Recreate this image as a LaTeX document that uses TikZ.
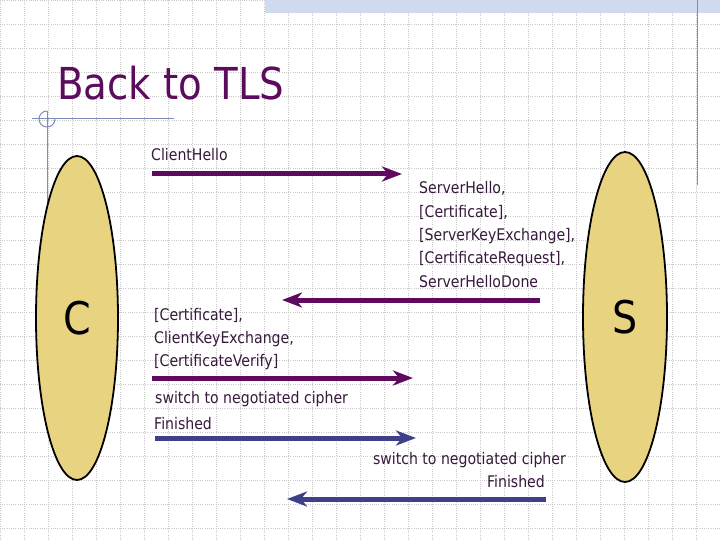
\documentclass[tikz,border=0pt]{standalone}
\usepackage{fontspec}
\setmainfont{DejaVu Sans}[FakeStretch=0.88]
\usetikzlibrary{arrows.meta,shapes.geometric}
\definecolor{gridgray}{RGB}{200,200,200}
\definecolor{bandblue}{RGB}{208,218,238}
\definecolor{decoblue}{RGB}{125,140,185}
\definecolor{partyfill}{RGB}{232,212,128}
\definecolor{titlepurple}{RGB}{92,12,92}
\definecolor{msgtext}{RGB}{55,25,60}
\definecolor{arrowpurple}{RGB}{94,10,94}
\definecolor{arrowblue}{RGB}{62,64,138}
\begin{document}
\begin{tikzpicture}[x=1pt,y=-1pt,
  gridline/.style={draw=gridgray, line width=0.6pt, dash pattern=on 1pt off 1.2pt},
  decoline/.style={draw=decoblue, line width=1pt},
  party/.style={ellipse, draw=black, line width=1.8pt, fill=partyfill, minimum width=82pt, minimum height=324pt, inner sep=0pt, font=\fontsize{45}{50}\selectfont},
  msg/.style={anchor=base west, inner sep=0pt, text=msgtext, font=\fontsize{16}{19}\selectfont},
  msgr/.style={msg, anchor=base east},
  parrow/.style={draw=arrowpurple, line width=5pt, -{Stealth[length=20pt,width=15pt,inset=6pt]}},
  barrow/.style={parrow, draw=arrowblue}
]
\useasboundingbox (0,0) rectangle (720,540);
\fill[white] (0,0) rectangle (720,540);
% grid
\foreach \gx in {0,24,...,720} \draw[gridline] (\gx,0) -- (\gx,540);
\foreach \gy in {0,24,...,540} \draw[gridline] (0,\gy) -- (720,\gy);
% top band and decorations
\fill[bandblue] (265,0) rectangle (720,13);
\draw[decoline] (697,0) -- (697,185);
\draw[decoline] (32,119) -- (174,119);
\draw[decoline] (47,111) -- (47,230);
\draw[decoline] (47,111) arc[start angle=90, end angle=360, radius=8pt];
% title
\node[anchor=base west, inner sep=0pt, text=titlepurple, font=\fontsize{44}{50}\selectfont] (title) at (57,100) {Back to TLS};
% parties
\node[party] (C) at (77,318) {C};
\node[party, minimum width=84pt, minimum height=330pt] (S) at (625,317) {S};
% arrow end points
\coordinate (m1a) at (152,174); \coordinate (m1b) at (402,174);
\coordinate (m2a) at (540,300); \coordinate (m2b) at (282,300);
\coordinate (m3a) at (152,378); \coordinate (m3b) at (413,378);
\coordinate (m4a) at (155,438); \coordinate (m4b) at (416,438);
\coordinate (m5a) at (546,499); \coordinate (m5b) at (287,499);
\draw[parrow] (m1a) -- (m1b);
\draw[parrow] (m2a) -- (m2b);
\draw[parrow] (m3a) -- (m3b);
\draw[barrow] (m4a) -- (m4b);
\draw[barrow] (m5a) -- (m5b);
% labels
\node[msg] (t1) at (151,161) {ClientHello};
\node[msg] (t2a) at (419,194) {ServerHello,};
\node[msg] (t2b) at (419,217.3) {[Certificate],};
\node[msg] (t2c) at (419,240.6) {[ServerKeyExchange],};
\node[msg] (t2d) at (419,263.9) {[CertificateRequest],};
\node[msg] (t2e) at (419,287.2) {ServerHelloDone};
\node[msg] (t3a) at (154,320) {[Certificate],};
\node[msg] (t3b) at (154,343) {ClientKeyExchange,};
\node[msg] (t3c) at (154,366) {[CertificateVerify]};
\node[msg] (t4a) at (155,403.5) {switch to negotiated cipher};
\node[msg] (t4b) at (154,429) {Finished};
\node[msgr] (t5a) at (566,464) {switch to negotiated cipher};
\node[msgr] (t5b) at (545,487.7) {Finished};
\end{tikzpicture}
\end{document}
